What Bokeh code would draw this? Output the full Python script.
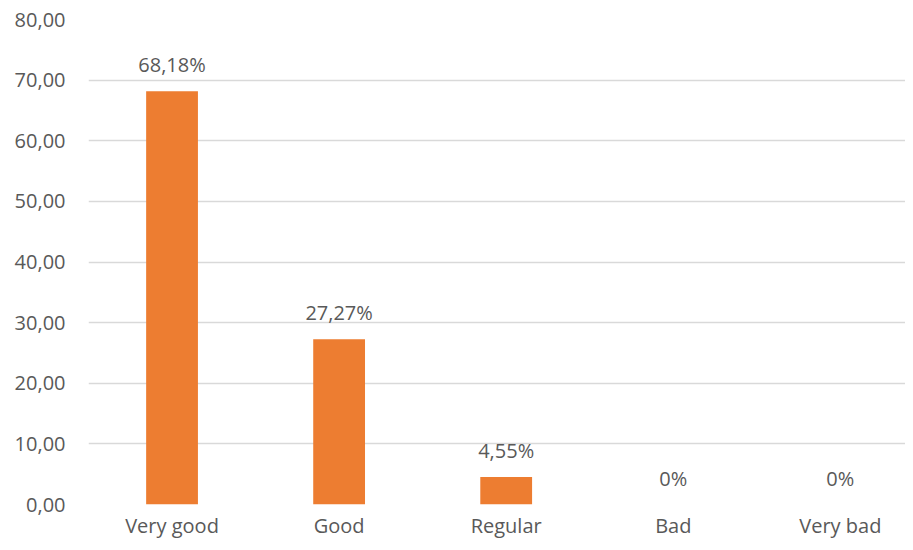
from bokeh.plotting import figure
from bokeh.models import ColumnDataSource, Range1d, FixedTicker, LabelSet
from bokeh.core.properties import value
from bokeh.embed import file_html
from bokeh.resources import INLINE

categories = ["Very good", "Good", "Regular", "Bad", "Very bad"]
values = [68.18, 27.27, 4.55, 0.0, 0.0]
labels = ["68,18%", "27,27%", "4,55%", "0%", "0%"]
y_ticks = [0, 10, 20, 30, 40, 50, 60, 70, 80]
y_tick_labels = ["0,00", "10,00", "20,00", "30,00", "40,00", "50,00", "60,00", "70,00", "80,00"]

FONT = "Open Sans"
TXT = "#595959"
FS = "20px"

xs = list(range(len(categories)))
src = ColumnDataSource(dict(x=xs, y=values, lab=labels))

p = figure(width=905, height=542, output_backend="svg", toolbar_location=None,
           x_range=Range1d(-0.5, 4.39), y_range=Range1d(0, 80),
           min_border_left=88, min_border_right=0, min_border_top=19, min_border_bottom=38)
p.outline_line_color = None
p.background_fill_color = "white"
p.border_fill_color = "white"

p.vbar(x="x", top="y", width=0.31, source=src, fill_color="#ED7D31", line_color=None)

p.add_layout(LabelSet(x="x", y="y", text="lab", source=src, text_align="center",
                      text_baseline="bottom", y_offset=13, text_font=value(FONT),
                      text_font_size=FS, text_color=TXT))

p.xaxis.ticker = FixedTicker(ticks=xs)
p.xaxis.major_label_overrides = {i: c for i, c in zip(xs, categories)}
p.yaxis.ticker = FixedTicker(ticks=y_ticks)
p.yaxis.major_label_overrides = {t: l for t, l in zip(y_ticks, y_tick_labels)}

for ax in (p.xaxis, p.yaxis):
    ax.axis_line_color = None
    ax.major_tick_line_color = None
    ax.minor_tick_line_color = None
    ax.major_tick_out = 0
    ax.major_tick_in = 0
    ax.major_label_text_font = FONT
    ax.major_label_text_font_size = FS
    ax.major_label_text_color = TXT
p.xaxis.major_label_standoff = 7
p.yaxis.major_label_standoff = 23

p.xgrid.grid_line_color = None
p.ygrid.grid_line_color = "#d9d9d9"
p.ygrid.grid_line_width = 1.5

open("out.html", "w").write(file_html(p, INLINE))
